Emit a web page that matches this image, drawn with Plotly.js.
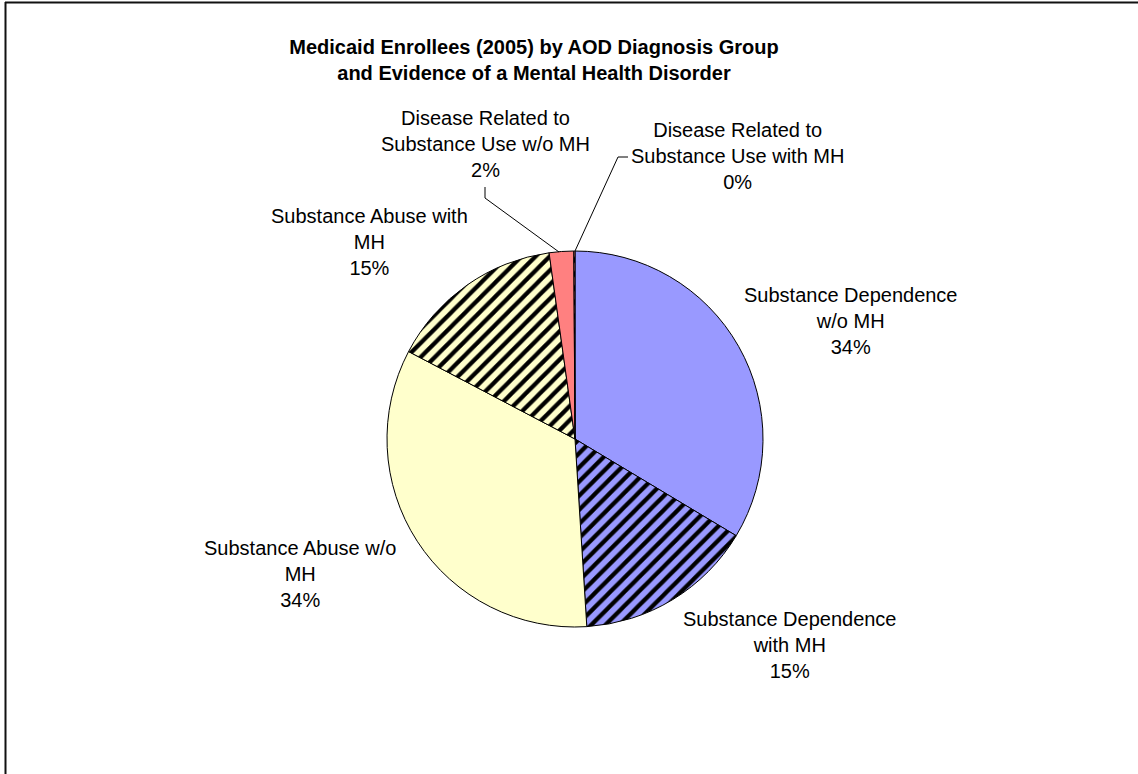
<!DOCTYPE html>
<html>
<head>
<meta charset="utf-8">
<script src="https://cdn.plot.ly/plotly-3.0.1.min.js"></script>
<style>
html,body{margin:0;padding:0;background:#fff;}
#chart{width:1138px;height:774px;}
</style>
</head>
<body>
<div id="chart"></div>
<script>
// ---- data ----
var categories = [
  "Substance Dependence w/o MH",
  "Substance Dependence with MH",
  "Substance Abuse w/o MH",
  "Substance Abuse with MH",
  "Disease Related to Substance Use w/o MH",
  "Disease Related to Substance Use with MH"
];
var labelLines = [
  "Substance Dependence<br>w/o MH",
  "Substance Dependence<br>with MH",
  "Substance Abuse w/o<br>MH",
  "Substance Abuse with<br>MH",
  "Disease Related to<br>Substance Use w/o MH",
  "Disease Related to<br>Substance Use with MH"
];
var values = [33.6, 15.4, 33.7, 15.1, 2.1, 0.1];
var colors = ["#9999FF", "#9999FF", "#FFFFCC", "#FFFFCC", "#FF8080", "#FF8080"];
var hatch = ["", "/", "", "/", "", "/"];

// ---- layout helpers ----
var W = 1138, H = 774;
function px(x){ return x / W; }
function py(y){ return 1 - y / H; }

var cx = 575, cy = 439, R = 188;

var total = values.reduce(function(a,b){return a+b;}, 0);
var pct = values.map(function(v){ return Math.round(v / total * 100) + "%"; });

// label centres (pixels)
var labelPos = [[851, 321], [790, 645], [300, 574], [369, 242], [485, 144], [737, 156]];

var annotations = labelPos.map(function(p, i){
  return {
    xref: "paper", yref: "paper",
    x: px(p[0]), y: py(p[1]),
    xanchor: "center", yanchor: "middle",
    text: labelLines[i] + "<br>" + pct[i],
    showarrow: false,
    align: "center",
    font: {family: "Liberation Sans, Arial, sans-serif", size: 20, color: "#000"}
  };
});

function path(pts){
  return pts.map(function(p, i){ return (i ? "L" : "M") + px(p[0]) + "," + py(p[1]); }).join(" ");
}

var shapes = [
  // leader lines
  {type: "path", xref: "paper", yref: "paper", path: path([[485,187],[485,198],[559,252]]), line: {color: "#000", width: 1}},
  {type: "path", xref: "paper", yref: "paper", path: path([[628,157],[618,157],[575,251]]), line: {color: "#000", width: 1}},
  // frame (top and left)
  {type: "line", xref: "paper", yref: "paper", x0: px(5), x1: px(1138), y0: py(2.5), y1: py(2.5), line: {color: "#111", width: 2}},
  {type: "line", xref: "paper", yref: "paper", x0: px(5.5), x1: px(5.5), y0: py(2), y1: py(774), line: {color: "#111", width: 2}}
];

var trace = {
  type: "pie",
  labels: categories,
  values: values,
  sort: false,
  direction: "clockwise",
  rotation: 0,
  textinfo: "none",
  hoverinfo: "label+percent",
  showlegend: false,
  domain: {x: [px(cx - R), px(cx + R)], y: [py(cy + R), py(cy - R)]},
  marker: {
    colors: colors,
    line: {color: "#000", width: 1},
    pattern: {shape: hatch, fgcolor: "#000", bgcolor: colors, size: 10, solidity: 0.42}
  }
};

var layout = {
  width: W, height: H,
  margin: {l: 0, r: 0, t: 0, b: 0},
  paper_bgcolor: "#fff",
  plot_bgcolor: "#fff",
  title: {
    text: "<b>Medicaid Enrollees (2005) by AOD Diagnosis Group<br>and Evidence of a Mental Health Disorder</b>",
    font: {family: "Liberation Sans, Arial, sans-serif", size: 20, color: "#000"},
    x: px(534), xanchor: "center",
    y: py(54), yanchor: "middle",
    xref: "paper", yref: "paper"
  },
  annotations: annotations,
  shapes: shapes
};

Plotly.newPlot("chart", [trace], layout, {displayModeBar: false, staticPlot: true});
</script>
</body>
</html>
